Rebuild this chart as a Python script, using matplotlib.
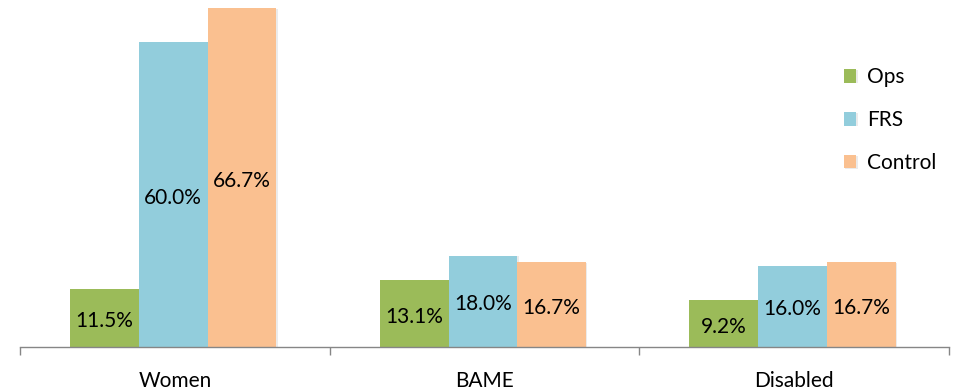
import matplotlib
matplotlib.use("Agg")
import matplotlib.pyplot as plt
import matplotlib.patheffects as pe
import numpy as np

categories = ["Women", "BAME", "Disabled"]
series_names = ["Ops", "FRS", "Control"]
ops = [11.5, 13.1, 9.2]
frs = [60.0, 18.0, 16.0]
control = [66.7, 16.7, 16.7]
colors = ["#9BBB59", "#92CDDC", "#FAC090"]

plt.rcParams['font.family'] = ['Lato', 'DejaVu Sans']

fig = plt.figure(figsize=(9.59, 3.91), dpi=100)
ax = fig.add_axes([20/959, 44/391, 929/959, 347/391])

x = np.arange(len(categories))
w = 0.222
shadow = [pe.SimplePatchShadow(offset=(1.0, -0.5), shadow_rgbFace='#c0c0c0', alpha=0.3), pe.Normal()]
for k, (vals, name, c) in enumerate(zip([ops, frs, control], series_names, colors)):
    pos = x + (k - 1) * w - 0.005
    bars = ax.bar(pos, vals, width=w, color=c, label=name, zorder=2)
    for b in bars:
        b.set_path_effects(shadow)
    for p, v in zip(pos, vals):
        ax.text(p, v / 2 - 0.6, f"{v:.1f}%", ha="center", va="center", fontsize=15, color="#000000", zorder=3)

ax.set_xlim(-0.5, 2.5)
ax.set_ylim(0, 68.3)
for s in ["top", "right", "left"]:
    ax.spines[s].set_visible(False)
ax.spines["bottom"].set_color("#868686")
ax.spines["bottom"].set_linewidth(1.0)
ax.set_yticks([])
ax.set_xticks(x)
ax.set_xticklabels(categories, fontsize=15)
ax.tick_params(axis="x", which="major", length=0, pad=17)
ax.set_xticks([-0.5, 0.5, 1.5, 2.5], minor=True)
ax.tick_params(axis="x", which="minor", length=6, width=1.0, color="#868686", direction="out")

leg = ax.legend(loc="upper left", bbox_to_anchor=(0.878, 0.83), frameon=False, fontsize=15,
                handlelength=0.6, handleheight=0.6, handletextpad=0.5, labelspacing=1.1, borderaxespad=0)

fig.savefig("out.png", dpi=100)
